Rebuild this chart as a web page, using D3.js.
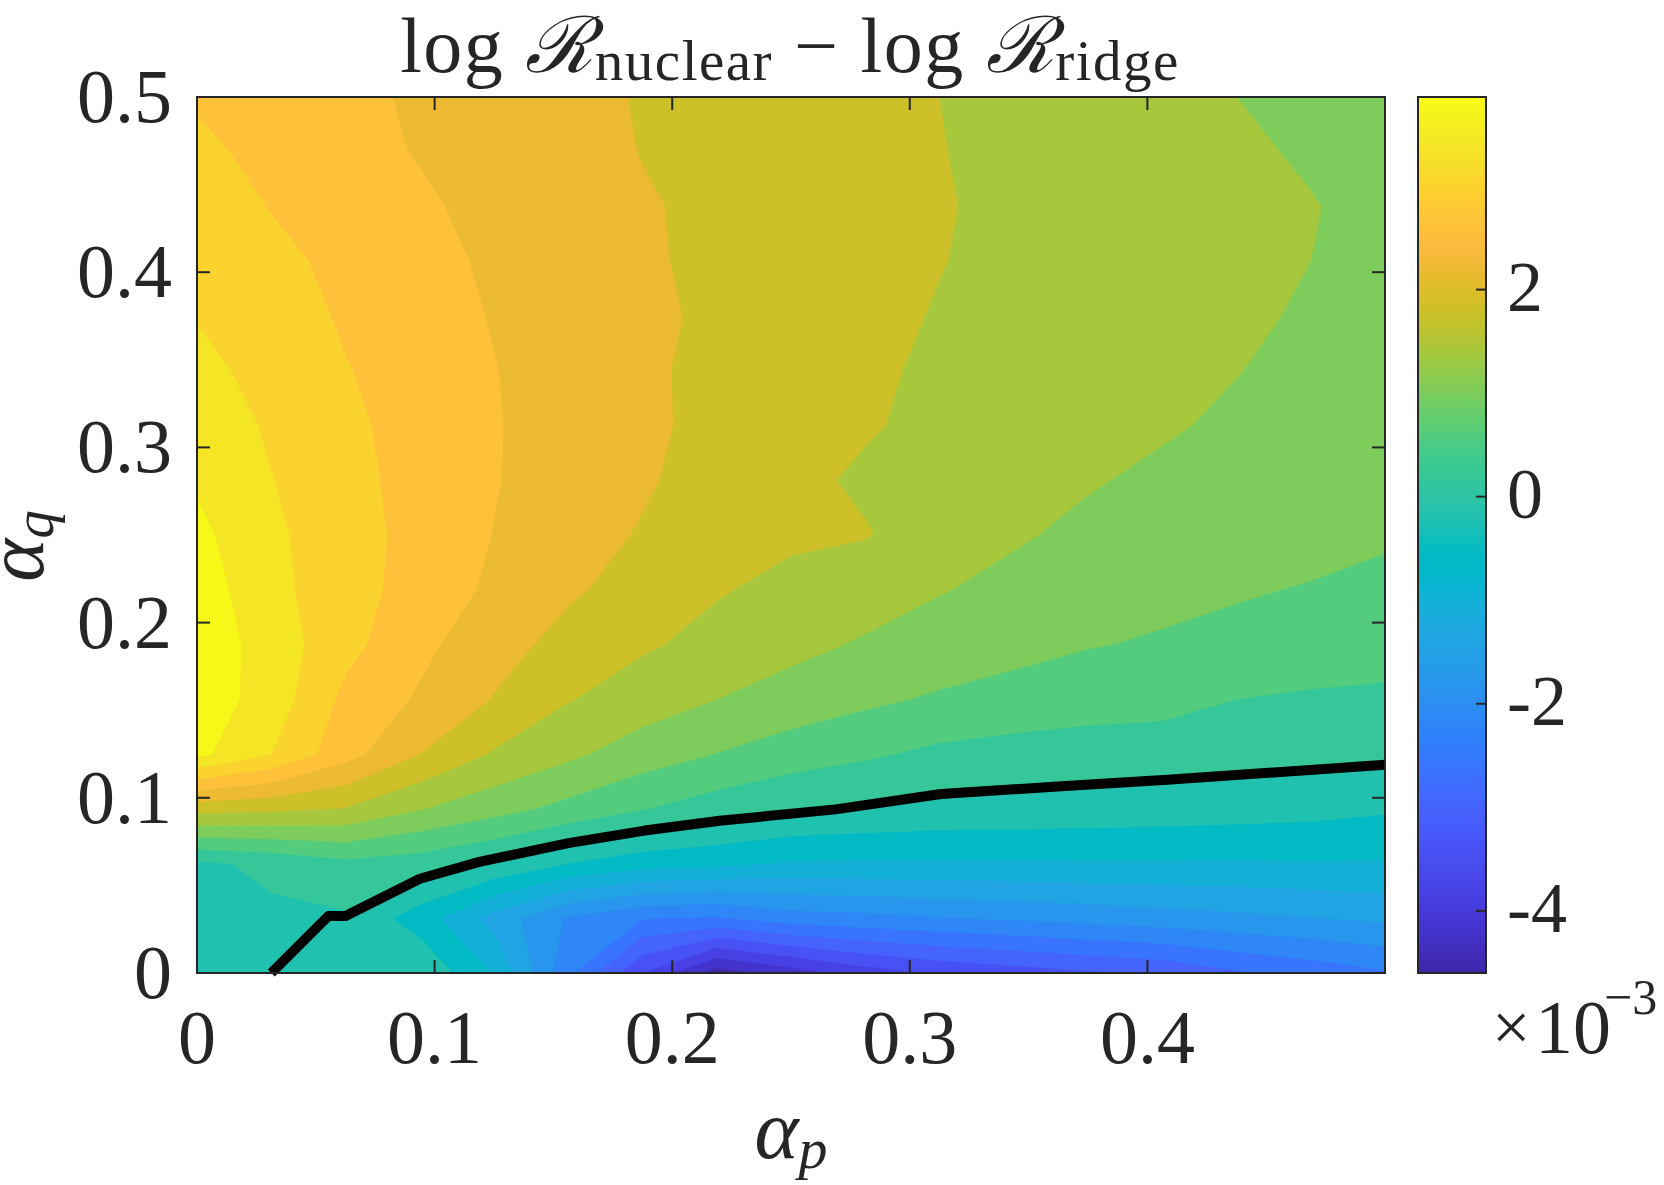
<!DOCTYPE html>
<html><head><meta charset="utf-8">
<script src="https://cdn.jsdelivr.net/npm/d3@7"></script>
<style>
html,body{margin:0;padding:0;background:#fff;}
svg{display:block;}
text{font-family:"Liberation Serif","DejaVu Serif",serif;fill:#262626;}
</style></head>
<body><svg id="chart" width="1664" height="1185"></svg>
<script>
// ================= DATA =================
// grid of alpha_p (columns) and alpha_q (rows)
const alphaP = [0, 0.03125, 0.0625, 0.09375, 0.125, 0.15625, 0.1875, 0.21875, 0.25, 0.28125, 0.3125, 0.34375, 0.375, 0.40625, 0.4375, 0.46875, 0.5];
const alphaQ = [0, 0.03125, 0.0625, 0.09375, 0.125, 0.15625, 0.1875, 0.21875, 0.25, 0.28125, 0.3125, 0.34375, 0.375, 0.40625, 0.4375, 0.46875, 0.5];
// log R_nuclear - log R_ridge (x 1e-3); row k corresponds to alphaQ[k]
const zRow00 = [-0.15, -0.10, -0.08, -0.05, -0.84, -2.30, -3.60, -4.60, -4.20, -3.80, -3.55, -3.40, -3.25, -3.13, -2.85, -2.65, -2.45];
const zRow01 = [-0.12, -0.07, -0.05, -0.60, -1.35, -2.05, -2.38, -2.45, -2.20, -2.12, -2.03, -1.95, -1.87, -1.78, -1.70, -1.62, -1.53];
const zRow02 = [-0.07, 0.08, 0.30, 0.20, -0.04, -0.40, -0.63, -0.71, -0.85, -0.85, -0.85, -0.85, -0.84, -0.84, -0.84, -0.83, -0.83];
const zRow03 = [1.75, 1.68, 1.58, 1.22, 0.95, 0.68, 0.42, 0.20, 0.047, -0.05, -0.115, -0.135, -0.164, -0.19, -0.23, -0.27, -0.35];
const zRow04 = [3.70, 3.20, 2.55, 2.00, 1.56, 1.28, 1.00, 0.79, 0.59, 0.46, 0.31, 0.24, 0.20, 0.17, 0.14, 0.11, 0.09];
const zRow05 = [3.84, 3.42, 2.70, 2.35, 1.98, 1.62, 1.40, 1.20, 1.05, 0.88, 0.75, 0.66, 0.58, 0.55, 0.40, 0.34, 0.30];
const zRow06 = [3.86, 3.42, 2.92, 2.50, 2.14, 1.88, 1.65, 1.48, 1.30, 1.16, 1.03, 0.92, 0.82, 0.76, 0.71, 0.66, 0.62];
const zRow07 = [3.82, 3.30, 2.98, 2.62, 2.33, 2.05, 1.86, 1.63, 1.50, 1.37, 1.22, 1.10, 0.98, 0.90, 0.83, 0.78, 0.72];
const zRow08 = [3.70, 3.28, 2.95, 2.68, 2.39, 2.15, 1.97, 1.78, 1.66, 1.62, 1.45, 1.24, 1.12, 1.04, 0.96, 0.90, 0.84];
const zRow09 = [3.55, 3.21, 2.92, 2.66, 2.42, 2.22, 2.04, 1.86, 1.68, 1.55, 1.43, 1.32, 1.23, 1.13, 1.05, 0.97, 0.90];
const zRow10 = [3.42, 3.15, 2.88, 2.65, 2.42, 2.26, 2.07, 1.90, 1.74, 1.63, 1.52, 1.42, 1.33, 1.24, 1.14, 1.06, 0.95];
const zRow11 = [3.30, 3.08, 2.82, 2.60, 2.41, 2.25, 2.05, 1.92, 1.78, 1.65, 1.55, 1.46, 1.38, 1.29, 1.21, 1.10, 1.00];
const zRow12 = [3.18, 3.00, 2.75, 2.55, 2.38, 2.24, 2.07, 1.94, 1.82, 1.68, 1.58, 1.50, 1.42, 1.34, 1.26, 1.16, 1.04];
const zRow13 = [3.15, 2.92, 2.68, 2.50, 2.35, 2.22, 2.04, 1.93, 1.85, 1.74, 1.61, 1.52, 1.44, 1.36, 1.28, 1.20, 1.07];
const zRow14 = [3.05, 2.78, 2.60, 2.45, 2.30, 2.18, 2.03, 1.93, 1.84, 1.74, 1.62, 1.54, 1.46, 1.38, 1.30, 1.22, 1.08];
const zRow15 = [2.90, 2.67, 2.50, 2.38, 2.25, 2.12, 1.99, 1.88, 1.78, 1.68, 1.61, 1.52, 1.43, 1.35, 1.27, 1.15, 1.05];
const zRow16 = [2.75, 2.68, 2.52, 2.33, 2.22, 2.08, 1.98, 1.90, 1.82, 1.72, 1.60, 1.50, 1.40, 1.30, 1.20, 1.10, 1.02];
const zRows = [zRow00, zRow01, zRow02, zRow03, zRow04, zRow05, zRow06, zRow07, zRow08, zRow09, zRow10, zRow11, zRow12, zRow13, zRow14, zRow15, zRow16];

const contourLevels = [-4.4, -4.0, -3.6, -3.2, -2.8, -2.4, -2.0, -1.6, -1.2, -0.8, -0.4, 0, 0.4, 0.8, 1.2, 1.6, 2.0, 2.4, 2.8, 3.2, 3.6];
const levelStep = 0.4;
const colorLimits = [-4.6, 3.86];

// zero-difference boundary (black curve)
const boundaryP = [0.03125, 0.0553, 0.0625, 0.0938, 0.1188, 0.1563, 0.1884, 0.2200, 0.2688, 0.3131, 0.3638, 0.4084, 0.5000];
const boundaryQ = [0, 0.0325, 0.0325, 0.0538, 0.0634, 0.0741, 0.0813, 0.0869, 0.0934, 0.1022, 0.1066, 0.1103, 0.1188];

const xTickValues = [0, 0.1, 0.2, 0.3, 0.4];
const xTickLabels = ["0", "0.1", "0.2", "0.3", "0.4"];
const yTickValues = [0, 0.1, 0.2, 0.3, 0.4, 0.5];
const yTickLabels = ["0", "0.1", "0.2", "0.3", "0.4", "0.5"];
const cbTickValues = [-4, -2, 0, 2];
const cbTickLabels = ["-4", "-2", "0", "2"];

// parula colormap (64 entries)
const parula64 = [[0.2422,0.1504,0.6603],[0.2504,0.1650,0.7076],[0.2578,0.1818,0.7511],[0.2647,0.1978,0.7952],[0.2706,0.2147,0.8364],[0.2751,0.2342,0.8710],[0.2783,0.2559,0.8991],[0.2803,0.2782,0.9221],[0.2813,0.3006,0.9414],[0.2810,0.3228,0.9579],[0.2795,0.3447,0.9717],[0.2760,0.3667,0.9829],[0.2699,0.3892,0.9906],[0.2602,0.4123,0.9952],[0.2440,0.4358,0.9988],[0.2206,0.4603,0.9973],[0.1963,0.4847,0.9892],[0.1834,0.5074,0.9798],[0.1786,0.5289,0.9682],[0.1764,0.5499,0.9520],[0.1687,0.5703,0.9359],[0.1540,0.5902,0.9218],[0.1460,0.6091,0.9079],[0.1380,0.6276,0.8973],[0.1248,0.6459,0.8883],[0.1113,0.6635,0.8763],[0.0952,0.6798,0.8598],[0.0689,0.6948,0.8394],[0.0297,0.7082,0.8163],[0.0036,0.7203,0.7917],[0.0067,0.7312,0.7660],[0.0433,0.7411,0.7394],[0.0964,0.7500,0.7120],[0.1408,0.7584,0.6842],[0.1717,0.7670,0.6554],[0.1938,0.7758,0.6251],[0.2161,0.7843,0.5923],[0.2470,0.7918,0.5567],[0.2906,0.7973,0.5188],[0.3406,0.8008,0.4789],[0.3909,0.8029,0.4354],[0.4456,0.8024,0.3909],[0.5044,0.7993,0.3480],[0.5616,0.7942,0.3045],[0.6174,0.7876,0.2612],[0.6720,0.7793,0.2227],[0.7242,0.7698,0.1910],[0.7738,0.7598,0.1646],[0.8203,0.7498,0.1535],[0.8634,0.7406,0.1596],[0.9035,0.7330,0.1774],[0.9393,0.7288,0.2100],[0.9728,0.7298,0.2394],[0.9956,0.7434,0.2371],[0.9970,0.7659,0.2199],[0.9952,0.7893,0.2028],[0.9892,0.8136,0.1885],[0.9786,0.8386,0.1766],[0.9676,0.8639,0.1643],[0.9610,0.8890,0.1537],[0.9597,0.9135,0.1423],[0.9628,0.9373,0.1265],[0.9691,0.9606,0.1064],[0.9769,0.9839,0.0805]];

// ================= LAYOUT =================
const plot = {left: 197, right: 1385, top: 97, bottom: 973};
const cbar = {left: 1418, right: 1486};
const axisColor = "#262626";
const tickFont = 76, cbFont = 72;

const svg = d3.select("#chart");

const xScale = d3.scaleLinear().domain([0, 0.5]).range([plot.left, plot.right]);
const yScale = d3.scaleLinear().domain([0, 0.5]).range([plot.bottom, plot.top]);

const parulaHex = parula64.map(c => d3.rgb(c[0]*255, c[1]*255, c[2]*255).formatHex());
const parula = d3.scaleLinear().domain(d3.range(parulaHex.length).map(i => i/(parulaHex.length-1))).range(parulaHex).interpolate(d3.interpolateRgb).clamp(true);
const toUnit = d3.scaleLinear().domain(colorLimits).range([0, 1]).clamp(true);
const colorOf = v => parula(toUnit(v));
// each filled band is coloured by the value at the middle of its interval
const bandColor = lvl => colorOf(lvl + levelStep / 2);

const defs = svg.append("defs");
defs.append("clipPath").attr("id", "plotClip")
  .append("rect").attr("x", plot.left).attr("y", plot.top)
  .attr("width", plot.right - plot.left).attr("height", plot.bottom - plot.top);

// ---- filled contours ----
const n = alphaP.length, m = alphaQ.length;
const values = [];
for (let j = 0; j < m; j++) for (let i = 0; i < n; i++) values.push(zRows[j][i]);
const contours = d3.contours().size([n, m]).thresholds(contourLevels)(values);
const gx = d3.scaleLinear().domain([0.5, n - 0.5]).range([alphaP[0], alphaP[n-1]]);
const gy = d3.scaleLinear().domain([0.5, m - 0.5]).range([alphaQ[0], alphaQ[m-1]]);
const proj = d3.geoTransform({point(x, y) { this.stream.point(xScale(gx(x)), yScale(gy(y))); }});
const path = d3.geoPath(proj);

const gFill = svg.append("g").attr("clip-path", "url(#plotClip)");
gFill.append("rect").attr("x", plot.left).attr("y", plot.top)
  .attr("width", plot.right - plot.left).attr("height", plot.bottom - plot.top)
  .attr("fill", colorOf(colorLimits[0]));
gFill.selectAll("path.band").data(contours).join("path")
  .attr("class", "band")
  .attr("d", path)
  .attr("fill", d => bandColor(d.value))
  .attr("stroke", d => bandColor(d.value))
  .attr("stroke-width", 0.6);

// ---- black boundary line ----
const line = d3.line().x((d, k) => xScale(boundaryP[k])).y((d, k) => yScale(boundaryQ[k]));
svg.append("path").attr("d", line(boundaryP))
  .attr("fill", "none").attr("stroke", "#000").attr("stroke-width", 10)
  .attr("stroke-linejoin", "round");

// ---- axes box & ticks ----
const gAx = svg.append("g");
const tickLen = 13;
gAx.append("rect").attr("x", plot.left).attr("y", plot.top)
  .attr("width", plot.right - plot.left).attr("height", plot.bottom - plot.top)
  .attr("fill", "none").attr("stroke", axisColor).attr("stroke-width", 2);
xTickValues.forEach(v => {
  const x = xScale(v);
  gAx.append("line").attr("x1", x).attr("x2", x).attr("y1", plot.bottom).attr("y2", plot.bottom - tickLen).attr("stroke", axisColor).attr("stroke-width", 2);
  gAx.append("line").attr("x1", x).attr("x2", x).attr("y1", plot.top).attr("y2", plot.top + tickLen).attr("stroke", axisColor).attr("stroke-width", 2);
});
yTickValues.forEach(v => {
  const y = yScale(v);
  gAx.append("line").attr("x1", plot.left).attr("x2", plot.left + tickLen).attr("y1", y).attr("y2", y).attr("stroke", axisColor).attr("stroke-width", 2);
  gAx.append("line").attr("x1", plot.right).attr("x2", plot.right - tickLen).attr("y1", y).attr("y2", y).attr("stroke", axisColor).attr("stroke-width", 2);
});
xTickValues.forEach((v, k) => {
  gAx.append("text").attr("x", xScale(v)).attr("y", 1063).attr("text-anchor", "middle")
    .attr("font-size", tickFont).text(xTickLabels[k]);
});
yTickValues.forEach((v, k) => {
  gAx.append("text").attr("x", 172).attr("y", yScale(v) + tickFont*0.33).attr("text-anchor", "end")
    .attr("font-size", tickFont).text(yTickLabels[k]);
});

// axis labels
const xl = svg.append("text").attr("x", 791).attr("y", 1158).attr("text-anchor", "middle")
  .attr("font-size", 84).attr("font-style", "italic");
xl.append("tspan").text("α");
xl.append("tspan").attr("font-size", 58).attr("dy", 10).text("p");

const yl = svg.append("text").attr("transform", "translate(43,546) rotate(-90)").attr("text-anchor", "middle")
  .attr("font-size", 82).attr("font-style", "italic");
yl.append("tspan").text("α");
yl.append("tspan").attr("font-size", 57).attr("dy", 10).text("q");

// title
const tt = svg.append("text").attr("x", 790).attr("y", 72).attr("text-anchor", "middle")
  .attr("font-size", 78).attr("letter-spacing", 1.5);
tt.append("tspan").text("log ");
tt.append("tspan").attr("font-family", "DejaVu Serif").attr("font-style", "italic").text("ℛ");
tt.append("tspan").attr("font-size", 57).attr("dy", 8).text("nuclear");
tt.append("tspan").attr("dy", -8).text(" − log ");
tt.append("tspan").attr("font-family", "DejaVu Serif").attr("font-style", "italic").text("ℛ");
tt.append("tspan").attr("font-size", 57).attr("dy", 8).text("ridge");

// ---- colorbar ----
const cbScale = d3.scaleLinear().domain(colorLimits).range([plot.bottom, plot.top]);
const grad = defs.append("linearGradient").attr("id", "cbGrad")
  .attr("x1", 0).attr("y1", 1).attr("x2", 0).attr("y2", 0);
parulaHex.forEach((c, k) => grad.append("stop").attr("offset", k/(parulaHex.length-1)).attr("stop-color", c));
svg.append("rect").attr("x", cbar.left).attr("y", plot.top)
  .attr("width", cbar.right - cbar.left).attr("height", plot.bottom - plot.top)
  .attr("fill", "url(#cbGrad)").attr("stroke", axisColor).attr("stroke-width", 2);
cbTickValues.forEach((v, k) => {
  const y = cbScale(v);
  svg.append("line").attr("x1", cbar.right).attr("x2", cbar.right - 10).attr("y1", y).attr("y2", y)
    .attr("stroke", axisColor).attr("stroke-width", 2);
  svg.append("text").attr("x", 1507).attr("y", y + cbFont*0.30).attr("font-size", cbFont).text(cbTickLabels[k]);
});
svg.append("text").attr("x", 1492).attr("y", 1050).attr("font-size", 68).text("×");
svg.append("text").attr("x", 1535).attr("y", 1053).attr("font-size", 76).text("10");
svg.append("text").attr("x", 1604).attr("y", 1014).attr("font-size", 50).text("−3");
</script>
</body></html>
